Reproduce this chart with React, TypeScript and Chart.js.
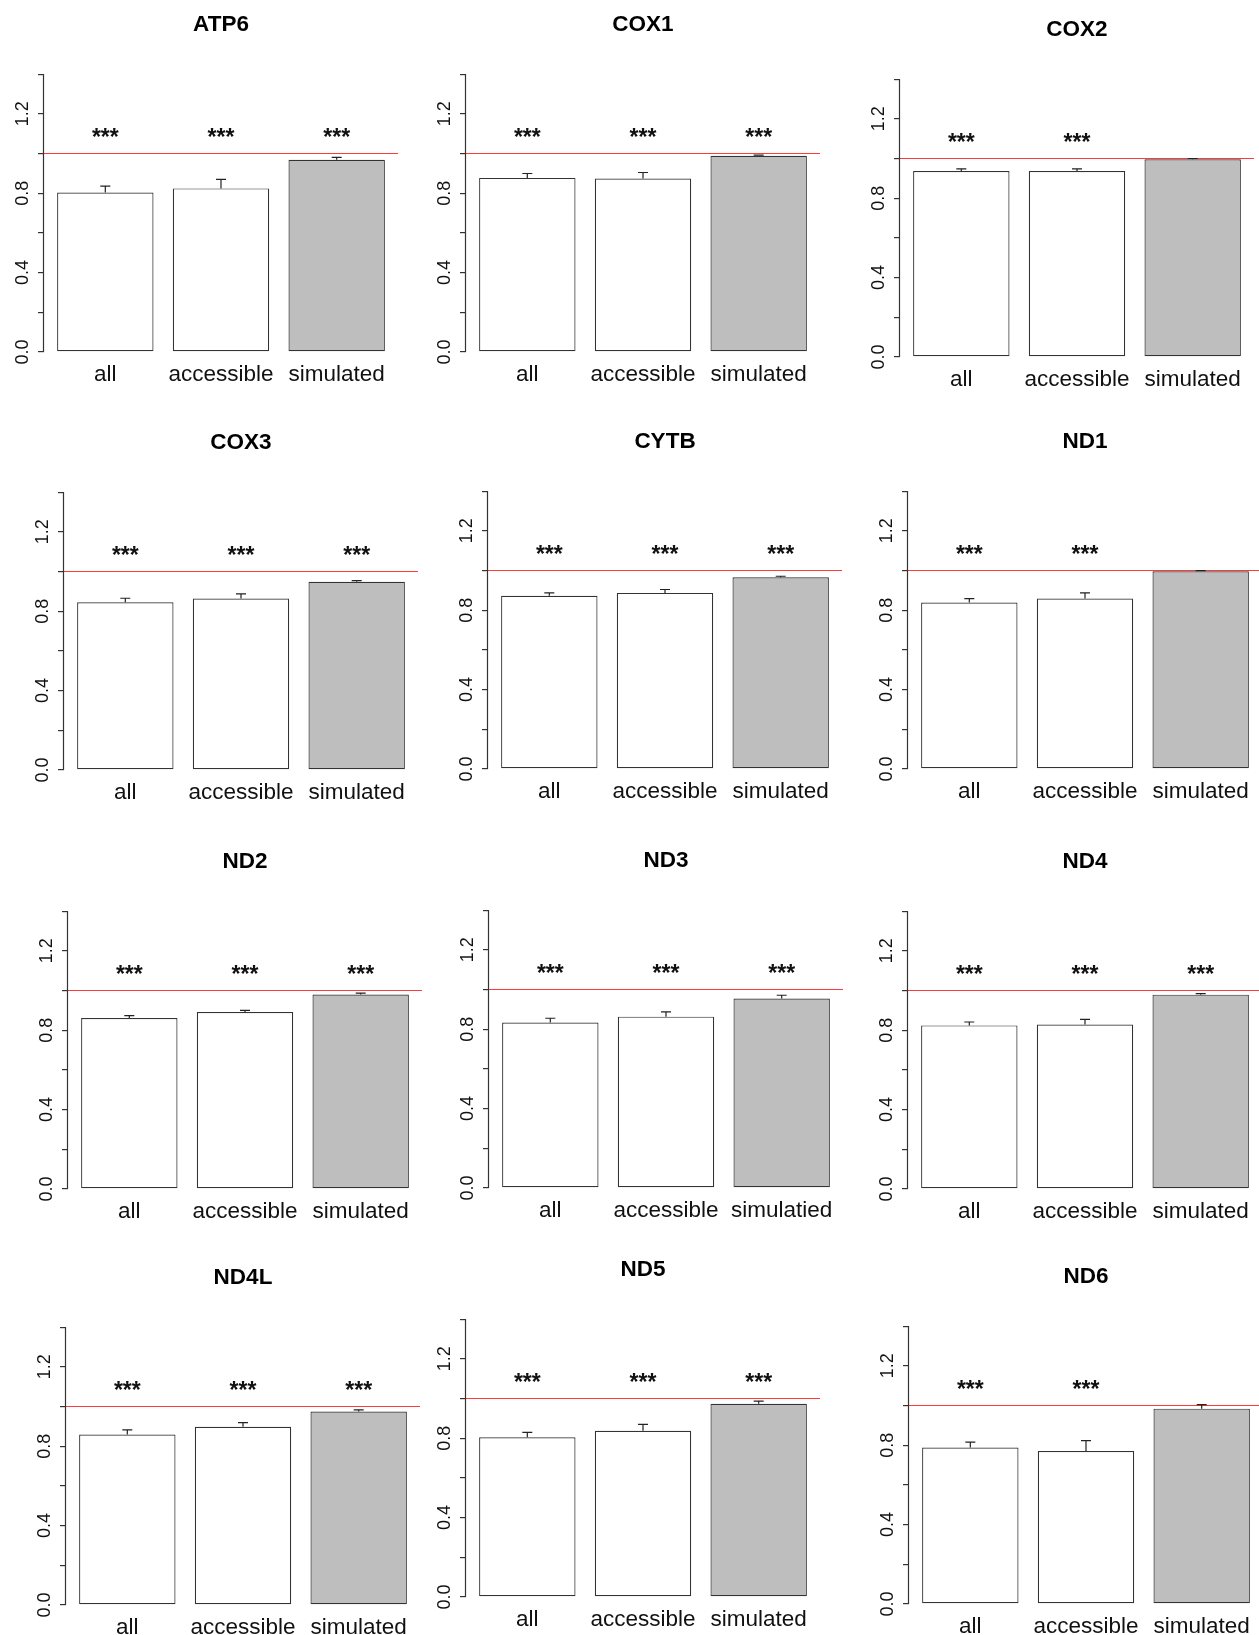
import React, { useEffect, useRef } from 'react';
import { Chart, registerables } from 'chart.js';

Chart.register(...registerables);

// ---------------- data ----------------
const GENES = ['ATP6', 'COX1', 'COX2', 'COX3', 'CYTB', 'ND1', 'ND2', 'ND3', 'ND4', 'ND4L', 'ND5', 'ND6'];
const CATEGORIES = ['all', 'accessible', 'simulated'];
const CATEGORIES_ND3 = ['all', 'accessible', 'simulatied'];

const ALL_MEAN = [0.803, 0.877, 0.937, 0.845, 0.872, 0.838, 0.861, 0.833, 0.824, 0.859, 0.804, 0.788];
const ALL_SE = [0.032, 0.022, 0.011, 0.020, 0.015, 0.020, 0.012, 0.022, 0.017, 0.023, 0.025, 0.027];
const ACC_MEAN = [0.824, 0.874, 0.937, 0.864, 0.887, 0.859, 0.891, 0.863, 0.828, 0.898, 0.837, 0.770];
const ACC_SE = [0.045, 0.030, 0.011, 0.023, 0.017, 0.028, 0.009, 0.024, 0.026, 0.021, 0.032, 0.053];
const SIM_MEAN = [0.968, 0.988, 0.996, 0.948, 0.966, 0.996, 0.980, 0.954, 0.979, 0.975, 0.973, 0.984];
const SIM_SE = [0.012, 0.004, 0.004, 0.006, 0.005, 0.003, 0.007, 0.017, 0.005, 0.008, 0.014, 0.020];

const ALL_SIG = [true, true, true, true, true, true, true, true, true, true, true, true];
const ACC_SIG = [true, true, true, true, true, true, true, true, true, true, true, true];
const SIM_SIG = [true, true, false, true, true, false, true, true, true, true, true, false];
const SIG_LABEL = '***';
const SIG_LEVEL = 1.1;

const REF_LINE = 1.0;
const Y_TICKS = [0, 0.2, 0.4, 0.6, 0.8, 1.0, 1.2, 1.4];
const Y_TICK_LABELS = ['0.0', '', '0.4', '', '0.8', '', '1.2', ''];

// ---------------- layout / style ----------------
const BAR_SPACE = 0.2; // R barplot default space
const barPos = (k: number) => BAR_SPACE + 0.5 + k * (1 + BAR_SPACE);
const X_LO = BAR_SPACE;
const X_HI = 3 * (1 + BAR_SPACE);
const X_MIN = X_LO - 0.04 * (X_HI - X_LO);
const X_MAX = X_HI + 0.04 * (X_HI - X_LO);
const Y_MIN = 0 - 0.04 * 1.4;
const Y_MAX = 1.4 + 0.04 * 1.4;

// plot-region origin of each panel (page pixels)
const PLOT_LEFT = [44, 466, 900, 64, 488, 908, 68, 489, 908, 66, 466, 909];
const PLOT_TOP = [63, 63, 68, 481, 480, 480, 900, 899, 900, 1316, 1308, 1315];
const PLOT_W = 354;
const PLOT_H = 300;
const Y_AXIS_W = 44;
const X_AXIS_H = 36;
const PAD_TOP = 62;
const PAD_RIGHT = 8;

const FONT = '"Liberation Sans", Arial, Helvetica, sans-serif';
const FILLS = ['#ffffff', '#ffffff', '#bebebe'];
const LINE = '#333333';
const RED = '#ff3a3a';

function decorPlugin(i: number) {
  return {
    id: 'decor' + i,
    afterDatasetsDraw(chart: any) {
      const { ctx, chartArea, scales } = chart;
      const xs = scales.x;
      const ys = scales.y;
      ctx.save();

      // reference line
      const yr = ys.getPixelForValue(REF_LINE);
      ctx.strokeStyle = RED;
      ctx.lineWidth = 1.2;
      ctx.beginPath();
      ctx.moveTo(chartArea.left, yr);
      ctx.lineTo(chartArea.right, yr);
      ctx.stroke();

      // error bars (upper)
      const means = [ALL_MEAN[i], ACC_MEAN[i], SIM_MEAN[i]];
      const ses = [ALL_SE[i], ACC_SE[i], SIM_SE[i]];
      const sig = [ALL_SIG[i], ACC_SIG[i], SIM_SIG[i]];
      ctx.strokeStyle = '#222';
      ctx.lineWidth = 1.2;
      means.forEach((m, k) => {
        const cx = xs.getPixelForValue(barPos(k));
        const yb = ys.getPixelForValue(m);
        const yt = ys.getPixelForValue(m + ses[k]);
        ctx.beginPath();
        ctx.moveTo(cx, yb);
        ctx.lineTo(cx, yt);
        ctx.moveTo(cx - 5, yt);
        ctx.lineTo(cx + 5, yt);
        ctx.stroke();
      });

      // significance stars
      ctx.fillStyle = '#111';
      ctx.font = `bold 23px ${FONT}`;
      ctx.textAlign = 'center';
      ctx.textBaseline = 'alphabetic';
      sig.forEach((s, k) => {
        if (!s) return;
        const cx = xs.getPixelForValue(barPos(k));
        ctx.fillText(SIG_LABEL, cx, ys.getPixelForValue(SIG_LEVEL) + 11);
      });

      // y axis line (0 .. 1.4)
      const ax = Math.round(chartArea.left) - 0.5;
      ctx.strokeStyle = LINE;
      ctx.lineWidth = 1.2;
      ctx.beginPath();
      ctx.moveTo(ax, ys.getPixelForValue(Y_TICKS[0]));
      ctx.lineTo(ax, ys.getPixelForValue(Y_TICKS[Y_TICKS.length - 1]));
      ctx.stroke();

      // y tick labels (rotated, parallel to axis)
      ctx.fillStyle = '#111';
      ctx.font = `18px ${FONT}`;
      ctx.textAlign = 'center';
      ctx.textBaseline = 'alphabetic';
      Y_TICKS.forEach((v, k) => {
        const lab = Y_TICK_LABELS[k];
        if (!lab) return;
        ctx.save();
        ctx.translate(chartArea.left - 16.5, ys.getPixelForValue(v));
        ctx.rotate(-Math.PI / 2);
        ctx.fillText(lab, 0, 0);
        ctx.restore();
      });

      // title
      ctx.fillStyle = '#000';
      ctx.font = `bold 22.5px ${FONT}`;
      ctx.textAlign = 'center';
      ctx.textBaseline = 'middle';
      ctx.fillText(GENES[i], (chartArea.left + chartArea.right) / 2, ys.getPixelForValue(Y_TICKS[Y_TICKS.length - 1]) - 49);

      ctx.restore();
    },
  };
}

function Panel({ i }: { i: number }) {
  const ref = useRef<HTMLCanvasElement>(null);
  useEffect(() => {
    const labels = GENES[i] === 'ND3' ? CATEGORIES_ND3 : CATEGORIES;
    const values = [ALL_MEAN[i], ACC_MEAN[i], SIM_MEAN[i]];
    const chart = new Chart(ref.current as HTMLCanvasElement, {
      type: 'bar',
      data: {
        datasets: [
          {
            data: values.map((v, k) => ({ x: barPos(k), y: v })),
            backgroundColor: FILLS,
            borderColor: LINE,
            borderWidth: 1.2,
            borderSkipped: false,
            categoryPercentage: 1 / (1 + BAR_SPACE),
            barPercentage: 1,
          } as any,
        ],
      },
      options: {
        responsive: false,
        animation: false,
        events: [],
        layout: { padding: { left: 0, top: PAD_TOP, right: PAD_RIGHT, bottom: 0 } },
        plugins: {
          legend: { display: false },
          tooltip: { enabled: false },
          title: { display: false },
        },
        scales: {
          x: {
            type: 'linear',
            offset: false,
            min: X_MIN,
            max: X_MAX,
            afterBuildTicks: (s: any) => {
              s.ticks = labels.map((_, k) => ({ value: barPos(k) }));
            },
            afterFit: (s: any) => {
              s.height = X_AXIS_H;
            },
            grid: { display: false, offset: false },
            border: { display: false },
            ticks: {
              autoSkip: false,
              maxRotation: 0,
              minRotation: 0,
              padding: -10,
              color: '#111',
              font: { family: FONT, size: 22.5 },
              callback: (_v: any, idx: number) => labels[idx],
            },
          },
          y: {
            type: 'linear',
            min: Y_MIN,
            max: Y_MAX,
            afterBuildTicks: (s: any) => {
              s.ticks = Y_TICKS.map((v) => ({ value: v }));
            },
            afterFit: (s: any) => {
              s.width = Y_AXIS_W;
            },
            grid: { display: true, drawOnChartArea: false, drawTicks: true, tickLength: 6, color: LINE, lineWidth: 1.2 },
            border: { display: false },
            ticks: { display: false },
          },
        },
      } as any,
      plugins: [decorPlugin(i)],
    });
    return () => chart.destroy();
  }, [i]);

  const w = Y_AXIS_W + PLOT_W + PAD_RIGHT;
  const h = PAD_TOP + PLOT_H + X_AXIS_H;
  return (
    <canvas
      ref={ref}
      width={w}
      height={h}
      style={{
        position: 'absolute',
        left: PLOT_LEFT[i] - Y_AXIS_W,
        top: PLOT_TOP[i] - PAD_TOP,
        width: w,
        height: h,
        display: 'block',
      }}
    />
  );
}

export default function App() {
  return (
    <div
      style={{
        position: 'absolute',
        left: 0,
        top: 0,
        width: 1259,
        height: 1635,
        overflow: 'hidden',
        background: '#fff',
      }}
    >
      {GENES.map((_, i) => (
        <Panel key={i} i={i} />
      ))}
    </div>
  );
}
